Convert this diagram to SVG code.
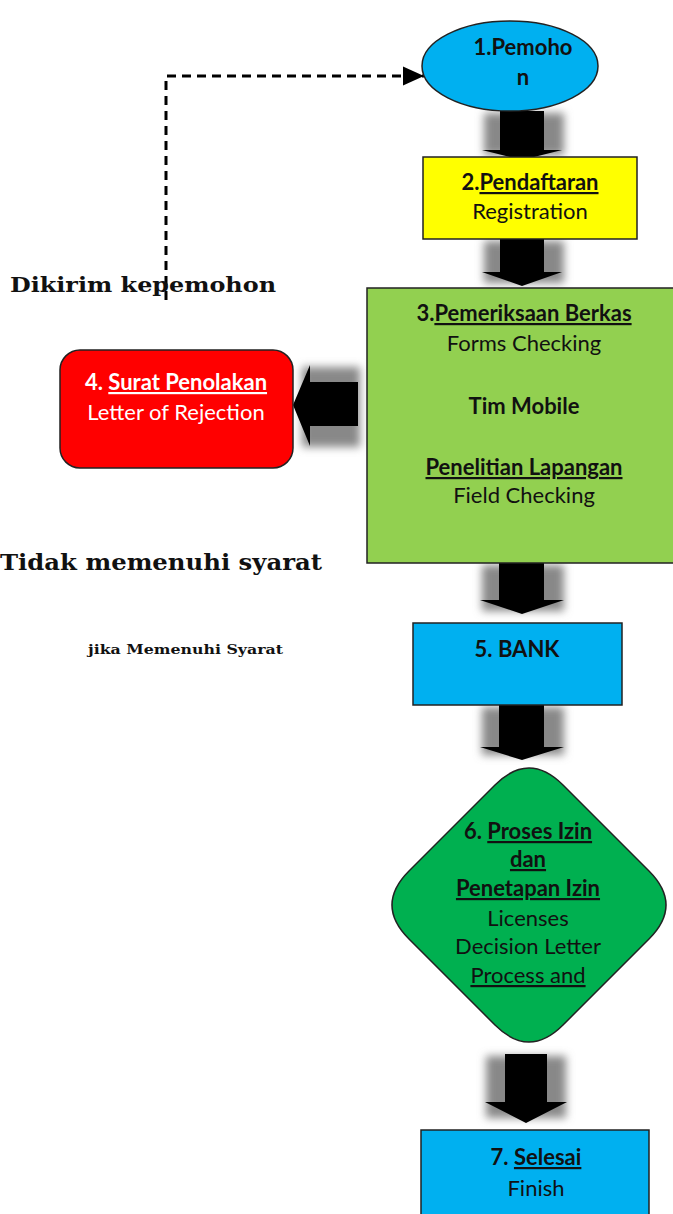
<svg xmlns="http://www.w3.org/2000/svg" width="673" height="1214" viewBox="0 0 673 1214">
<defs>
<style>
.t{font-family:Lato,"Open Sans","Liberation Sans",sans-serif;font-size:22px;text-anchor:middle;fill:#111}
.b{font-weight:bold}
.u{text-decoration:underline}
.s{font-family:"DejaVu Serif","Liberation Serif",serif;font-weight:bold;fill:#111}
.node{stroke:#222;stroke-width:1.5}
.arr{fill:#000}
.sh{fill:#888;filter:url(#blur)}
</style>
<filter id="blur" x="-30%" y="-30%" width="160%" height="160%"><feGaussianBlur stdDeviation="4"/></filter>
<marker id="ah" markerWidth="8" markerHeight="8" refX="7" refY="4" orient="auto" markerUnits="strokeWidth"><path d="M0,0.8 L7,4 L0,7.2 z" fill="#000"/></marker>
</defs>
<rect width="673" height="1214" fill="#fff"/>

<g id="connectors">
<path d="M166,300 V76 H424" fill="none" stroke="#000" stroke-width="3" stroke-dasharray="9,6" marker-end="url(#ah)"/>
<g id="a1">
<rect class="sh" x="484" y="113" width="80" height="42"/>
<polygon class="arr" points="500,111 544,111 544,150 562,150 522,160 482,150 500,150"/>
</g>
<g id="a2">
<rect class="sh" x="484" y="241" width="80" height="42"/>
<polygon class="arr" points="500,239 544,239 544,272 562,272 522,286 482,272 500,272"/>
</g>
<g id="a3">
<rect class="sh" x="302" y="367" width="58" height="80"/>
<polygon class="arr" points="358,382 358,426 310,426 310,446 293,405 310,365 310,382"/>
</g>
<g id="a4">
<rect class="sh" x="482" y="565" width="82" height="46"/>
<polygon class="arr" points="499,563 544,563 544,600 564,600 522,614 480,600 499,600"/>
</g>
<g id="a5">
<rect class="sh" x="482" y="707" width="82" height="48"/>
<polygon class="arr" points="499,705 544,705 544,747 564,747 522,760 480,747 499,747"/>
</g>
<g id="a6">
<rect class="sh" x="486" y="1056" width="80" height="62"/>
<polygon class="arr" points="505,1054 547,1054 547,1102 567,1102 526,1123 485,1102 505,1102"/>
</g>
</g>

<g id="n1">
<ellipse class="node" cx="510" cy="66" rx="88" ry="45" fill="#00b0f0"/>
<text class="t b" x="523" y="55">1.Pemoho</text>
<text class="t b" x="523" y="85">n</text>
</g>

<g id="n2">
<rect class="node" x="423" y="157" width="214" height="82" fill="#ffff00"/>
<text class="t b" x="530" y="190">2.<tspan class="u">Pendaftaran</tspan></text>
<text class="t" x="530" y="219">Registration</text>
</g>

<g id="n3">
<rect class="node" x="367" y="288" width="310" height="275" fill="#92d050"/>
<text class="t b" x="524" y="321">3.<tspan class="u">Pemeriksaan Berkas</tspan></text>
<text class="t" x="524" y="351">Forms Checking</text>
<text class="t b" x="524" y="414">Tim Mobile</text>
<text class="t b u" x="524" y="475">Penelitian Lapangan</text>
<text class="t" x="524" y="503">Field Checking</text>
</g>

<g id="n4">
<rect class="node" x="60" y="350" width="233" height="118" rx="20" fill="#ff0000"/>
<text class="t b" x="176" y="390" style="fill:#fff">4. <tspan class="u">Surat Penolakan</tspan></text>
<text class="t" x="176" y="420" style="fill:#fff">Letter of Rejection</text>
</g>

<g id="n5">
<rect class="node" x="413" y="623" width="209" height="82" fill="#00b0f0"/>
<text class="t b" x="517" y="657">5. BANK</text>
</g>

<g id="n6">
<path class="node" d="M495,785 Q529,751 563,785 L649,871 Q683,905 649,939 L563,1025 Q529,1059 495,1025 L409,939 Q375,905 409,871 Z" fill="#00b050"/>
<text class="t b" x="528" y="839">6. <tspan class="u">Proses Izin</tspan></text>
<text class="t b u" x="528" y="867"> dan</text>
<text class="t b u" x="528" y="896">Penetapan Izin</text>
<text class="t" x="528" y="926">Licenses</text>
<text class="t" x="528" y="954">Decision Letter</text>
<text class="t u" x="528" y="983">Process and</text>
</g>

<g id="n7">
<rect class="node" x="421" y="1130" width="228" height="90" fill="#00b0f0"/>
<text class="t b" x="536" y="1165">7. <tspan class="u">Selesai</tspan></text>
<text class="t" x="536" y="1196">Finish</text>
</g>

<g id="labels">
<text class="s" x="10" y="292" font-size="21" textLength="266" lengthAdjust="spacingAndGlyphs">Dikirim kepemohon</text>
<text class="s" x="0" y="570" font-size="22" textLength="322" lengthAdjust="spacingAndGlyphs">Tidak memenuhi syarat</text>
<text class="s" x="88" y="654" font-size="13" textLength="195" lengthAdjust="spacingAndGlyphs">jika Memenuhi Syarat</text>
</g>
</svg>
